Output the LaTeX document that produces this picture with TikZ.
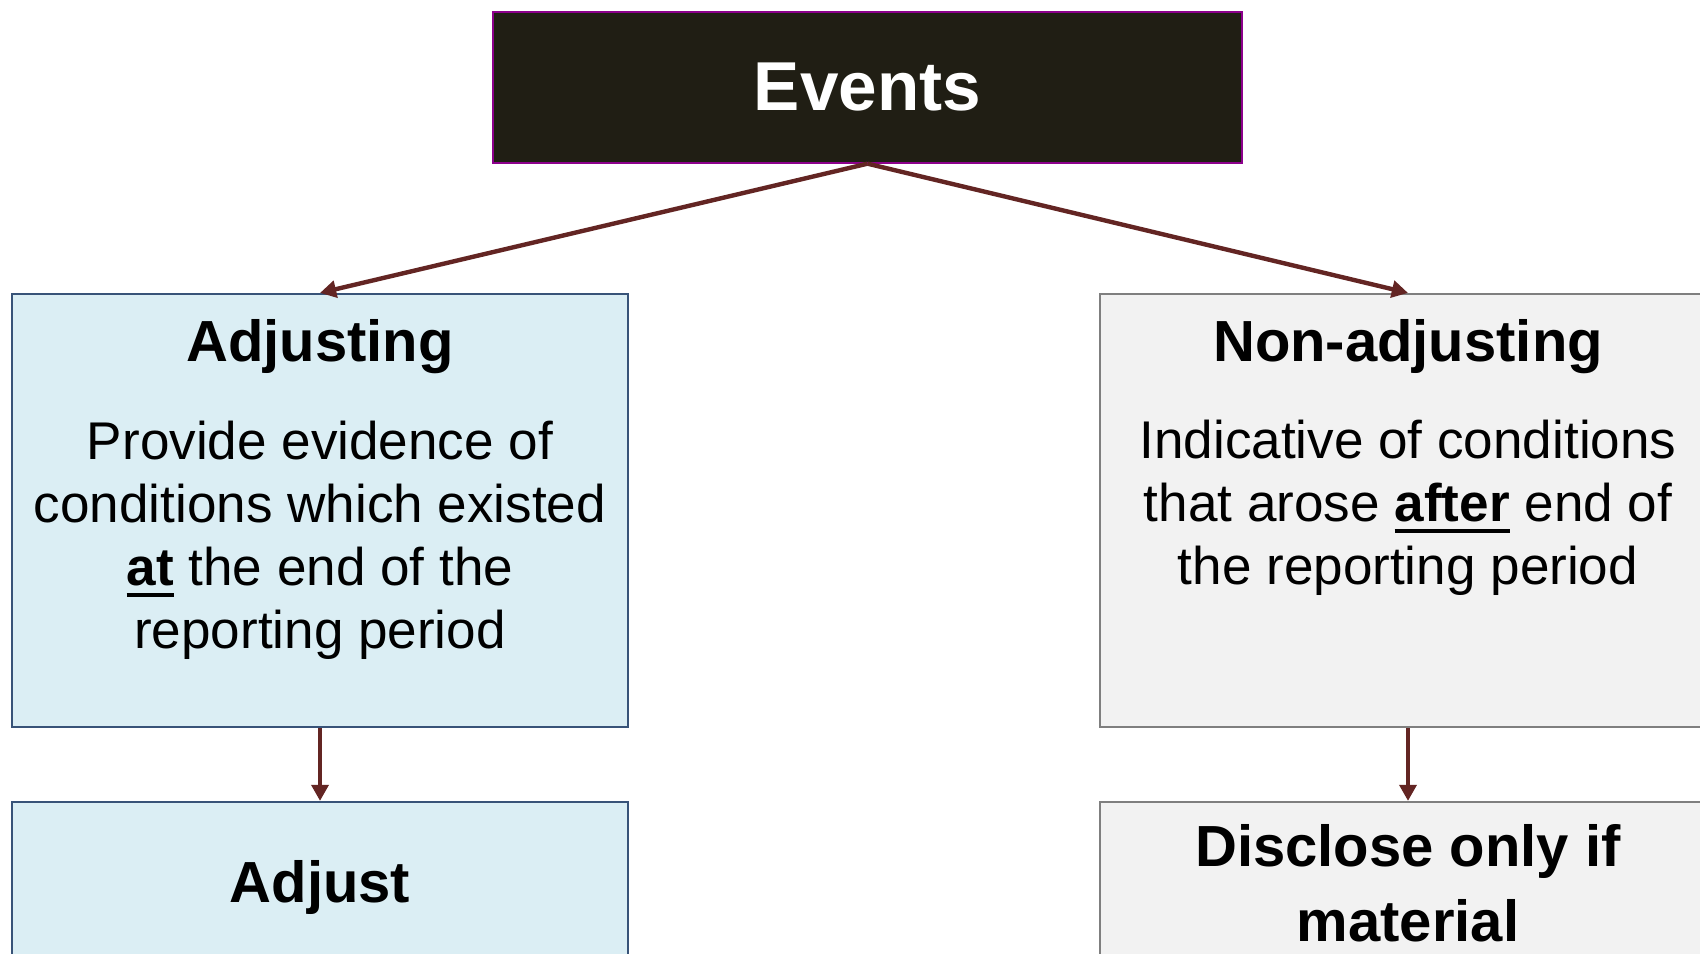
\documentclass[tikz,border=0pt]{standalone}
\usepackage{fontspec}
\setmainfont{Liberation Sans}
\usepackage{xcolor}
\usepackage{tikz}
\usetikzlibrary{arrows.meta}

\definecolor{evfill}{RGB}{32,30,20}
\definecolor{evline}{RGB}{140,0,140}
\definecolor{adjfill}{RGB}{219,238,244}
\definecolor{adjline}{RGB}{56,83,120}
\definecolor{nonfill}{RGB}{242,242,242}
\definecolor{nonline}{RGB}{127,127,127}
\definecolor{flowred}{RGB}{99,37,35}

\newcommand{\undl}[1]{\setbox0\hbox{\bfseries #1}\rlap{\rule[-0.22em]{\wd0}{0.09em}}\box0\relax}

\tikzset{
  evbox/.style={draw=evline, fill=evfill, line width=0.4pt, text=white,
    font=\fontsize{19.7}{23}\selectfont\bfseries},
  adjbox/.style={draw=adjline, fill=adjfill, line width=0.6pt, inner sep=0pt},
  nonbox/.style={draw=nonline, fill=nonfill, line width=0.6pt, inner sep=0pt},
  boxtitle/.style={font=\fontsize{16.5}{21.5}\selectfont\bfseries, align=center, anchor=base, inner sep=0pt},
  boxbody/.style={font=\fontsize{15.1}{18}\selectfont, align=center, anchor=base, inner sep=0pt},
  flow/.style={draw=flowred, line width=1.25pt, -{Triangle[length=4.6pt,width=4.8pt]}}
}

\begin{document}
\begin{tikzpicture}
  \clip (0,0) rectangle (17,9.54);
  \fill[white] (0,0) rectangle (17,9.54);

  \node[evbox, minimum width=7.49cm, minimum height=1.51cm] (events) at (8.675,8.665) {Events};

  \node[adjbox, minimum width=6.16cm, minimum height=4.33cm] (adjusting) at (3.20,4.435) {};
  \node[nonbox, minimum width=6.16cm, minimum height=4.33cm] (nonadj) at (14.08,4.435) {};
  \node[adjbox, minimum width=6.16cm, minimum height=1.61cm] (adjust) at (3.20,0.715) {};
  \node[nonbox, minimum width=6.16cm, minimum height=1.61cm] (disclose) at (14.08,0.715) {};

  \node[boxtitle] (adjT) at ([yshift=-0.69cm]adjusting.north) {Adjusting};
  \node[boxbody] (adjB) at ([yshift=-3.56cm]adjusting.north)
    {Provide evidence of\\conditions which existed\\\undl{at} the end of the\\reporting period};
  \node[boxtitle] (nonT) at ([yshift=-0.69cm]nonadj.north) {Non-adjusting};
  \node[boxbody] (nonB) at ([yshift=-2.92cm]nonadj.north)
    {Indicative of conditions\\that arose \undl{after} end of\\the reporting period};
  \node[boxtitle] (adjustT) at (3.20,0.51) {Adjust};
  \node[boxtitle] (discloseT) at (14.08,0.12) {Disclose only if\\material};

  \draw[flow] (events.south) -- (adjusting.north);
  \draw[flow] (events.south) -- (nonadj.north);
  \draw[flow] (adjusting.south) -- (adjust.north);
  \draw[flow] (nonadj.south) -- (disclose.north);
\end{tikzpicture}
\end{document}
